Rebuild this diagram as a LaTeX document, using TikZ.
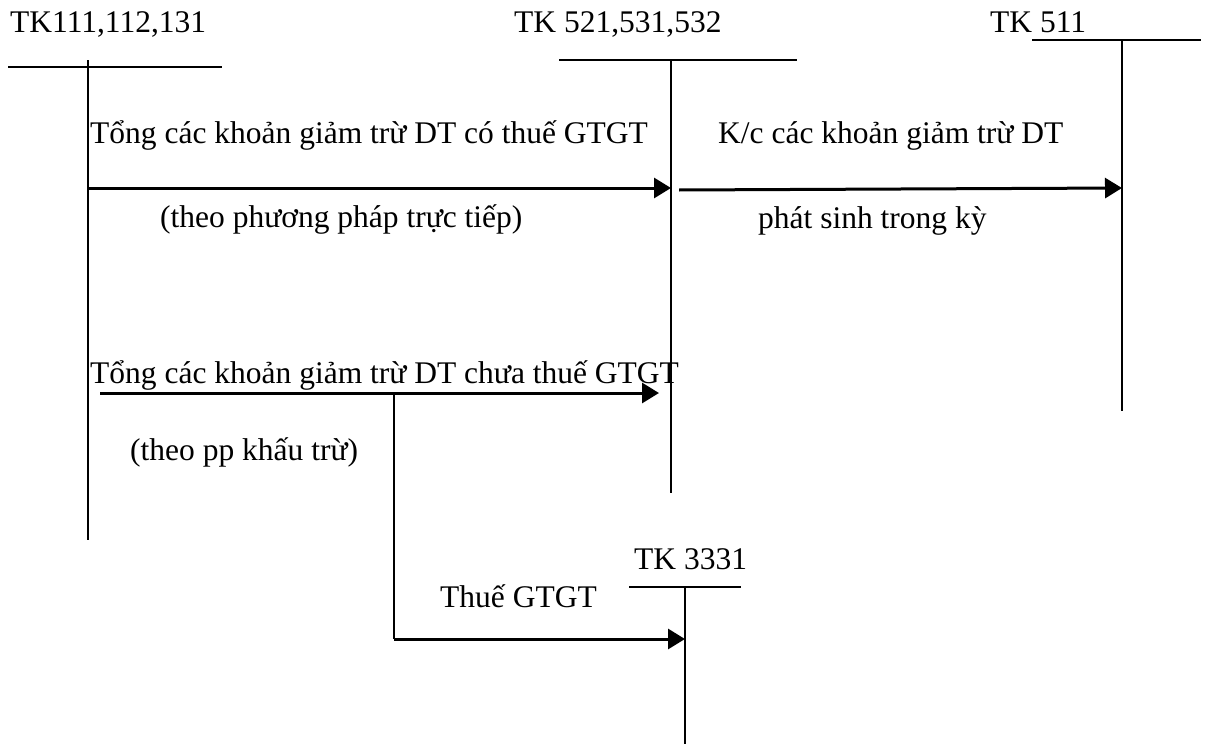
\documentclass[tikz,border=0pt]{standalone}
\usepackage{fontspec}
\setmainfont{Liberation Serif}
\usepackage{xcolor}
\usetikzlibrary{arrows.meta,positioning,calc}
\definecolor{ink}{HTML}{000000}

\begin{document}
\begin{tikzpicture}[
  x=1pt, y=-1pt,
  font=\fontsize{31.5}{36}\selectfont,
  lbl/.style={anchor=base west, inner sep=0pt, text=ink},
  tacc/.style={line width=1.3pt, draw=ink},
  arr/.style={-{Triangle[length=17pt,width=20pt]}, line width=3pt, draw=ink},
  drop/.style={line width=1.3pt, draw=ink},
]
\useasboundingbox (0,0) rectangle (1205,744);
% account titles
\node[lbl] (tkcash) at (10,32) {TK111,112,131};
\node[lbl] (tkded) at (514,32) {TK 521,531,532};
\node[lbl] (tkrev) at (990,32) {TK 511};
\node[lbl] (tkvat) at (634,569) {TK 3331};
% T-accounts
\coordinate (cashL) at (8,67);   \coordinate (cashR) at (222,67);
\coordinate (cashT) at (88,60);  \coordinate (cashB) at (88,540);
\coordinate (dedL) at (559,60);  \coordinate (dedR) at (797,60);
\coordinate (dedT) at (671,60);  \coordinate (dedB) at (671,493);
\coordinate (revL) at (1032,40); \coordinate (revR) at (1201,40);
\coordinate (revT) at (1122,40); \coordinate (revB) at (1122,411);
\coordinate (vatL) at (629,587); \coordinate (vatR) at (741,587);
\coordinate (vatT) at (685,587); \coordinate (vatB) at (685,744);
\foreach \a in {cash,ded,rev,vat}{
  \draw[tacc] (\a L) -- (\a R);
  \draw[tacc] (\a T) -- (\a B);
}
% entries
\coordinate (e1s) at (88,188);   \coordinate (e1e) at (671,188);
\coordinate (e2s) at (679,190);  \coordinate (e2e) at (1122,188);
\coordinate (e3s) at (100,393);  \coordinate (e3e) at (659,393);
\coordinate (e4s) at (394,393);  \coordinate (e4k) at (394,639);
\coordinate (e4e) at (685,639);
\draw[arr] (e1s) -- (e1e);
\draw[arr] (e2s) -- (e2e);
\draw[arr] (e3s) -- (e3e);
\draw[drop] (e4s) -- (e4k);
\draw[arr] (e4k) -- (e4e);
% texts
\node[lbl] (t1a) at (90,143) {Tổng các khoản giảm trừ DT có thuế GTGT};
\node[lbl] (t1b) at (160,227) {(theo phương pháp trực tiếp)};
\node[lbl] (t2a) at (718,143) {K/c các khoản giảm trừ DT};
\node[lbl] (t2b) at (758,228) {phát sinh trong kỳ};
\node[lbl] (t3a) at (90,383) {Tổng các khoản giảm trừ DT chưa thuế GTGT};
\node[lbl] (t3b) at (130,460) {(theo pp khấu trừ)};
\node[lbl] (t4a) at (440,607) {Thuế GTGT};
\end{tikzpicture}
\end{document}
